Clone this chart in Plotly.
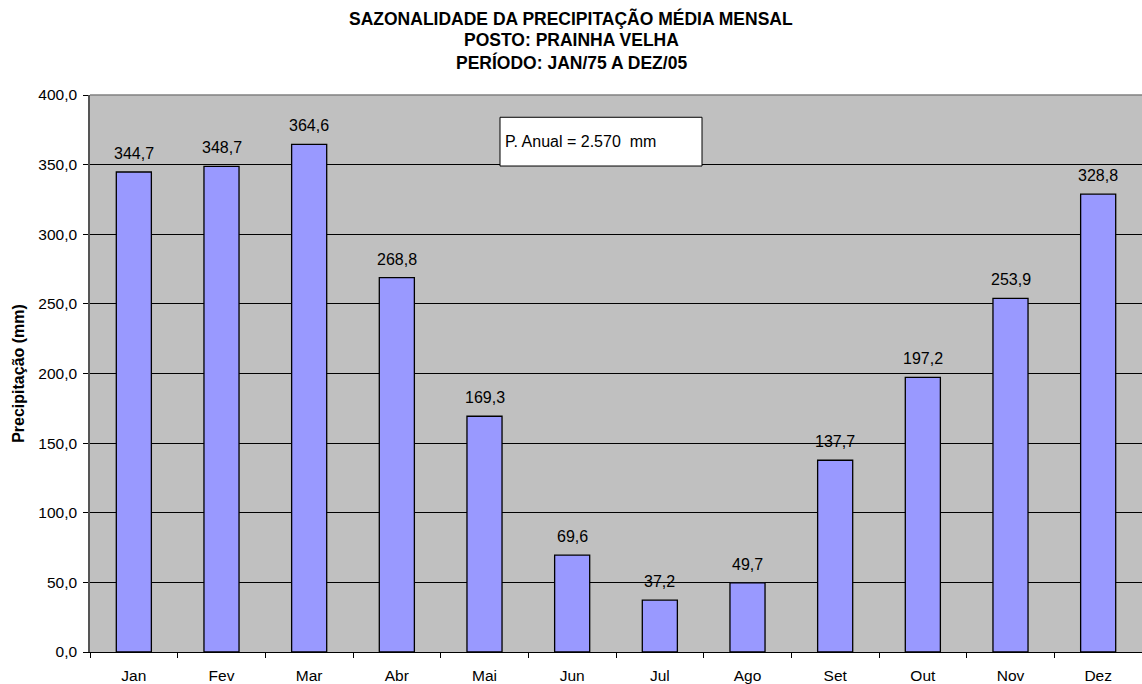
import plotly.graph_objects as go

months = ["Jan", "Fev", "Mar", "Abr", "Mai", "Jun", "Jul", "Ago", "Set", "Out", "Nov", "Dez"]
precip = [344.7, 348.7, 364.6, 268.8, 169.3, 69.6, 37.2, 49.7, 137.7, 197.2, 253.9, 328.8]
title_lines = ["SAZONALIDADE DA PRECIPITAÇÃO MÉDIA MENSAL", "POSTO: PRAINHA VELHA", "PERÍODO: JAN/75 A DEZ/05"]
annual_text = "P. Anual = 2.570  mm"

FONT = "Liberation Sans, Arial, sans-serif"

fig = go.Figure()
fig.add_trace(go.Bar(
    x=months, y=precip,
    marker=dict(color="#9999FF", line=dict(color="black", width=1.3)),
    width=0.4,
    hoverinfo="skip",
))

W, H = 1142, 684
L, R, T, B = 90, 0, 95, 32
ph = H - T - B
pw = W - L - R

def py(ypix):
    return (H - B - ypix) / ph

annots = []
for i, line in enumerate(title_lines):
    annots.append(dict(text="<b>%s</b>" % line, xref="paper", yref="paper",
                       x=(571 - L) / pw, y=py(18 + 22 * i), xanchor="center", yanchor="middle",
                       showarrow=False, font=dict(family=FONT, size=17.5, color="black")))

# value labels above bars
for m, v in zip(months, precip):
    annots.append(dict(text=("%.1f" % v).replace(".", ","), x=m, y=v, xref="x", yref="y",
                       xanchor="center", yanchor="bottom", yshift=8, showarrow=False,
                       font=dict(family=FONT, size=16, color="black")))

fig.update_layout(
    width=W, height=H,
    margin=dict(l=L, r=R, t=T, b=B, pad=0),
    paper_bgcolor="white", plot_bgcolor="#C0C0C0",
    separators=",.",
    showlegend=False,
    font=dict(family=FONT, size=16, color="black"),
    annotations=annots,
    shapes=[dict(type="rect", xref="paper", yref="y",
                 x0=(500 - L) / pw, x1=(702 - L) / pw, y0=349, y1=384,
                 fillcolor="white", line=dict(color="black", width=1), layer="above"),
            dict(type="line", xref="paper", yref="paper", x0=0, x1=1, y0=1, y1=1,
                 line=dict(color="#808080", width=1.5))],
)
fig.add_annotation(text=annual_text.replace("  ", " \u00a0"), xref="paper", yref="y",
                   x=(503 - L) / pw, y=366.5, xanchor="left", yanchor="middle",
                   showarrow=False, font=dict(family=FONT, size=16, color="black"))

fig.update_xaxes(
    type="category", showgrid=False,
    ticks="outside", tickson="boundaries", ticklen=5, tickcolor="black",
    showline=True, linecolor="black", linewidth=1,
    ticklabelstandoff=9,
    tickfont=dict(family=FONT, size=15.5, color="black"),
)
fig.update_yaxes(
    range=[0, 400], dtick=50, tickformat=".1f",
    showgrid=True, gridcolor="black", gridwidth=1,
    ticks="outside", ticklen=5, tickcolor="black",
    showline=True, linecolor="#555555", linewidth=1.5,
    zeroline=False,
    ticklabelstandoff=3,
    tickfont=dict(family=FONT, size=15.5, color="black"),
    title=dict(text="<b>Precipitação (mm)</b>", font=dict(family=FONT, size=16, color="black"), standoff=10),
)

fig.write_html("out.html", config={"displayModeBar": False},
               post_script="document.body.style.margin='0';document.body.style.overflow='hidden';")
